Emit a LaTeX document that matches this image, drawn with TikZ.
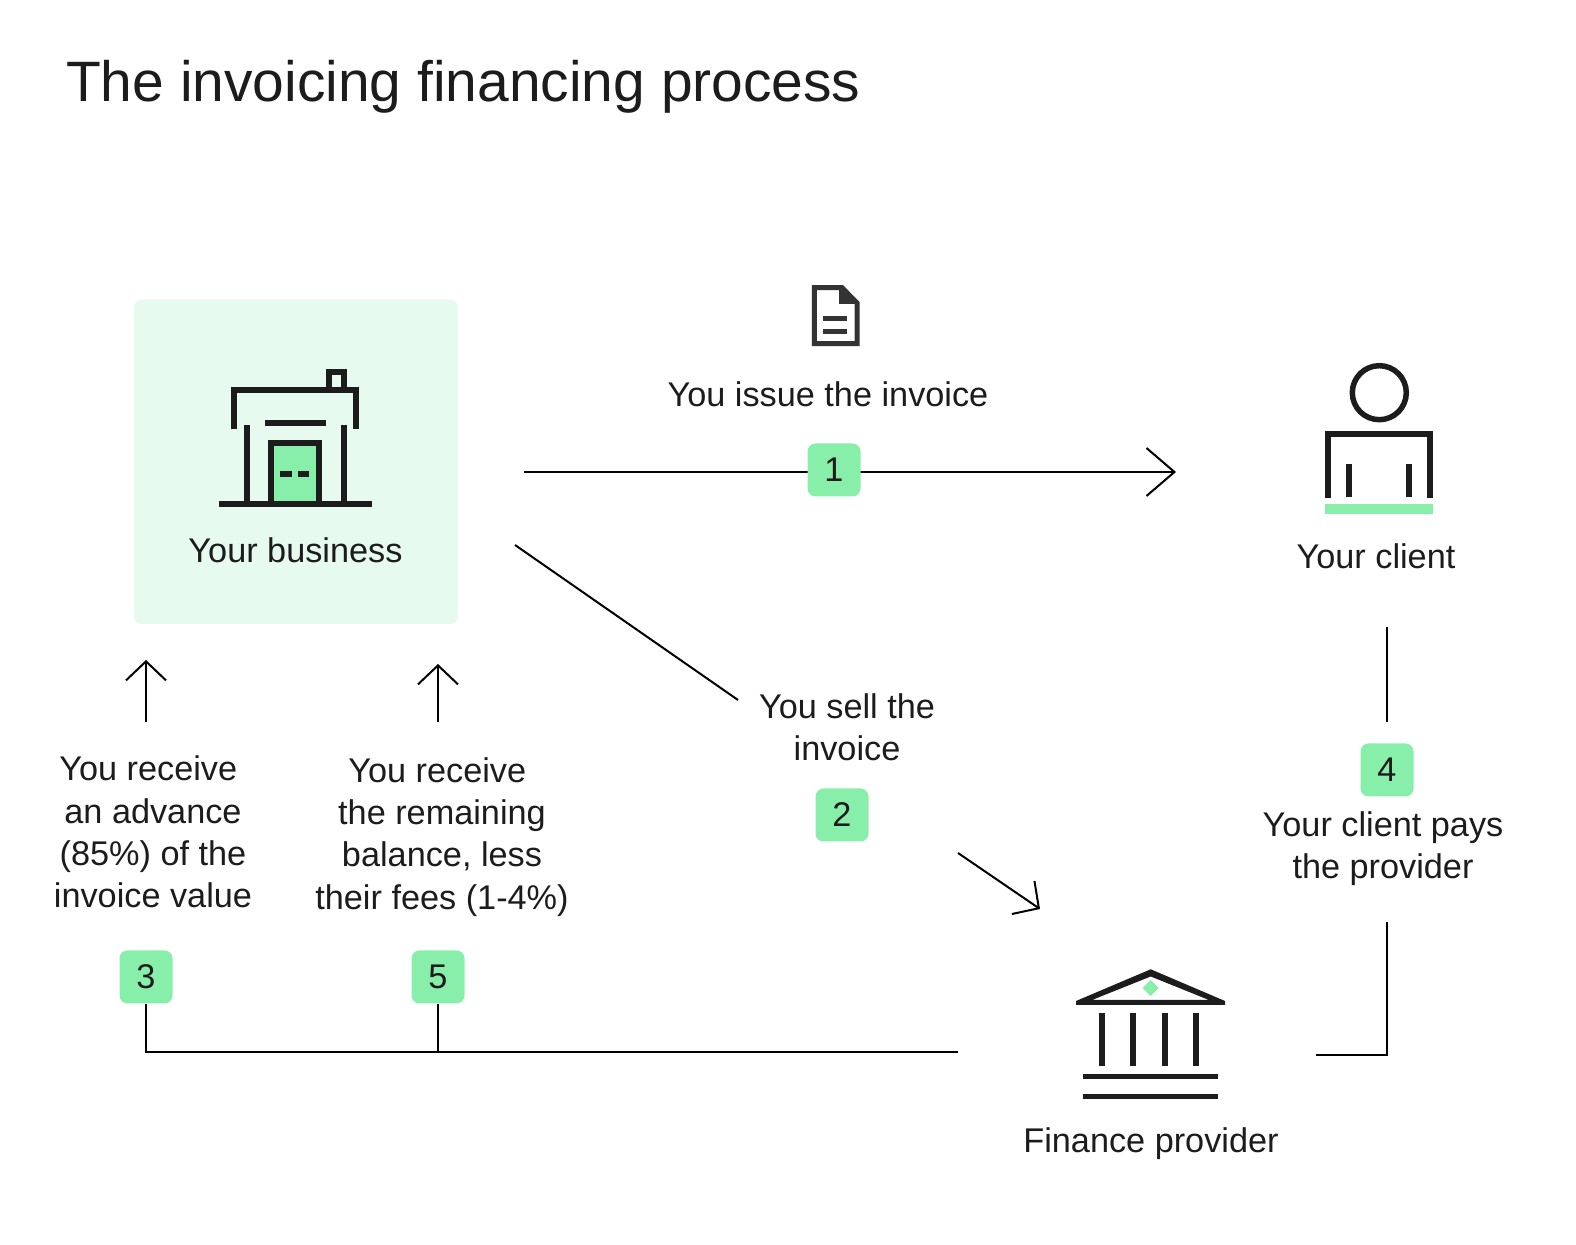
\documentclass[tikz,border=0pt]{standalone}
\usepackage{fontspec}
\setmainfont{Liberation Sans}
\usetikzlibrary{arrows.meta}
\definecolor{inkdark}{HTML}{1C1C1C}
\definecolor{docdark}{HTML}{333333}
\definecolor{mintpale}{HTML}{E7FAF0}
\definecolor{mintgreen}{HTML}{88EFAA}
\tikzset{
	label/.style={font=\fontsize{9.75}{12}\selectfont, text=inkdark, align=center, inner sep=0pt},
	badge/.style={fill=mintgreen, rounded corners=0.08cm, minimum size=0.53cm, inner sep=0pt, font=\fontsize{9.75}{12}\selectfont, text=inkdark},
	link/.style={black, line width=0.02cm},
	longhead/.style={-{Straight Barb[length=0.28cm,width=0.48cm]}},
	shorthead/.style={-{Straight Barb[length=0.19cm,width=0.40cm]}},
	icon/.style={inkdark, line width=0.06cm}
}
\begin{document}
\begin{tikzpicture}
	\useasboundingbox (0,0) rectangle (15.76,12.44);
	\fill[mintpale, rounded corners=0.08cm] (1.34,6.20) rectangle (4.58,9.445);
	\node[label, anchor=base west, font=\fontsize{16.2}{20}\selectfont] (title) at (0.655,11.42) {The invoicing financing process};

	\fill[mintgreen] (2.713,7.403) rectangle (3.19,8.01);
	\draw[icon] (2.193,7.403) -- (3.717,7.403);
	\draw[icon] (2.343,8.147) |- (3.56,8.543) -- (3.56,8.147);
	\draw[icon] (3.287,8.543) |- (3.437,8.717) -- (3.437,8.543);
	\draw[icon] (2.467,8.19) -- (2.467,7.403);
	\draw[icon] (3.437,8.19) -- (3.437,7.403);
	\draw[icon] (2.65,8.207) -- (3.257,8.207);
	\draw[icon] (2.713,7.403) |- (3.19,8.01) -- (3.19,7.403);
	\draw[icon] (2.803,7.70) -- (2.92,7.70);
	\draw[icon] (2.977,7.70) -- (3.093,7.70);
	\node[label] (business) at (2.955,6.94) {Your business};

	\draw[docdark, line width=0.05cm] (8.143,9.563) -- (8.42,9.563) -- (8.57,9.41) -- (8.57,9.003) -- (8.143,9.003) -- cycle;
	\fill[docdark] (8.39,9.563) -- (8.39,9.40) -- (8.57,9.40) -- cycle;
	\draw[docdark, line width=0.05cm] (8.233,9.25) -- (8.473,9.25);
	\draw[docdark, line width=0.05cm] (8.233,9.123) -- (8.473,9.123);
	\node[label] (issue) at (8.28,8.50) {You issue the invoice};

	\draw[icon, line width=0.055cm] (13.793,8.513) circle (0.27);
	\draw[icon] (13.283,7.457) |- (14.30,8.10) -- (14.30,7.457);
	\draw[icon] (13.493,7.467) -- (13.493,7.80);
	\draw[icon] (14.093,7.467) -- (14.093,7.80);
	\fill[mintgreen] (13.25,7.303) rectangle (14.327,7.40);
	\node[label] (client) at (13.76,6.88) {Your client};

	\fill[inkdark, even odd rule] (10.76,2.43) -- (11.507,2.747) -- (12.25,2.43) -- (12.25,2.39) -- (10.76,2.39) -- cycle
		(10.92,2.44) -- (11.507,2.675) -- (12.09,2.44) -- cycle;
	\fill[mintgreen] (11.427,2.56) -- (11.507,2.64) -- (11.587,2.56) -- (11.507,2.48) -- cycle;
	\foreach \colx in {11.023,11.333,11.647,11.957}
		\draw[icon] (\colx,1.777) -- (\colx,2.31);
	\draw[icon, line width=0.055cm] (10.827,1.673) -- (12.183,1.673);
	\draw[icon, line width=0.055cm] (10.827,1.477) -- (12.183,1.477);
	\node[label] (provider) at (11.51,1.00) {Finance provider};

	\node[label] (sell) at (8.47,5.165) {You sell the\\invoice};
	\node[label] (pays) at (13.83,3.95) {Your client pays\\the provider};
	\node[label] (advance) at (1.53,4.12) {You receive\ \mbox{}\\an advance\\(85\%) of the\\invoice value};
	\node[label] (balance) at (4.42,4.07) {You receive\ \mbox{}\\the remaining\\balance, less\\their fees (1-4\%)};

	\coordinate (issuestart) at (5.24,7.72);
	\coordinate (issueend) at (11.76,7.72);
	\coordinate (sellstart) at (5.15,6.99);
	\coordinate (sellstop) at (7.38,5.44);
	\coordinate (sellresume) at (9.58,3.91);
	\coordinate (sellend) at (10.40,3.35);
	\coordinate (advancestart) at (1.46,5.22);
	\coordinate (advanceend) at (1.46,5.84);
	\coordinate (balancestart) at (4.38,5.22);
	\coordinate (balanceend) at (4.38,5.80);
	\coordinate (paystart) at (13.87,6.17);
	\coordinate (paystop) at (13.87,5.22);
	\coordinate (payresume) at (13.87,3.22);
	\coordinate (payend) at (13.16,1.89);
	\coordinate (returnend) at (9.58,1.92);

	\draw[link, longhead] (issuestart) -- (issueend);
	\draw[link] (sellstart) -- (sellstop);
	\draw[link, shorthead] (sellresume) -- (sellend);
	\draw[link, shorthead] (advancestart) -- (advanceend);
	\draw[link, shorthead] (balancestart) -- (balanceend);
	\draw[link] (paystart) -- (paystop);
	\draw[link] (payresume) |- (payend);

	\node[badge] (one) at (8.34,7.74) {1};
	\node[badge] (two) at (8.42,4.29) {2};
	\node[badge] (three) at (1.46,2.67) {3};
	\node[badge] (four) at (13.87,4.74) {4};
	\node[badge] (five) at (4.38,2.67) {5};

	\draw[link] (three.south) |- (returnend);
	\draw[link] (five.south) -- (five.south |- returnend);
\end{tikzpicture}
\end{document}
